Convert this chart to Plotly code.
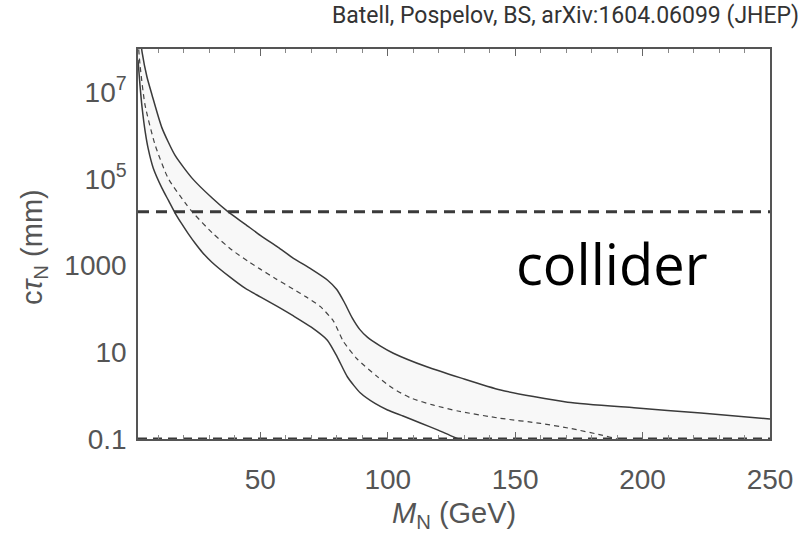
import plotly.graph_objects as go

# ---- data ----
mass_upper = [2, 3.6, 5.5, 7.5, 11.4, 16.5, 23.2, 31.1, 37.4, 44.0, 50.0, 57.0, 63.0, 70.0, 76.3,
              80.0, 83.0, 86.0, 89.0, 92.0, 97.0, 102.2, 115.6, 128.6, 144.3, 170.6, 196.6, 222.9, 250]
log_ctau_upper = [8.7, 7.93, 7.36, 6.94, 6.18, 5.55, 5.02, 4.56, 4.24, 3.96, 3.70, 3.42, 3.17, 2.92, 2.67,
                  2.45, 2.15, 1.80, 1.53, 1.35, 1.15, 0.98, 0.66, 0.41, 0.13, -0.15, -0.28, -0.40, -0.54]

mass_mid = [2, 2.8, 4.75, 8.7, 13.8, 20.5, 23.6, 31.1, 38.9, 45.2, 50.0, 56.0, 62.9, 68.0, 73.5,
            78.7, 82.6, 88.1, 95.9, 102.0, 108.9, 118, 128, 144, 160, 172, 184, 190, 200]
log_ctau_mid = [8.2, 7.63, 6.71, 5.79, 5.02, 4.45, 4.22, 3.76, 3.36, 3.10, 2.92, 2.70, 2.46, 2.28, 2.06,
                1.72, 1.25, 0.84, 0.44, 0.17, -0.05, -0.22, -0.36, -0.52, -0.64, -0.76, -0.91, -1.0, -1.15]

mass_lower = [2, 2.8, 3.6, 4.8, 6.0, 8.0, 11.4, 14.0, 16.5, 19.0, 21.7, 24.5, 27.2, 31.0, 38.0, 44.0,
              50.0, 57.0, 63.0, 70.0, 76.3, 80.2, 84.2, 89.3, 95.0, 99.9, 106.0, 112.8, 120.0, 125.8,
              135, 160, 200, 250]
log_ctau_lower = [7.75, 7.15, 6.65, 6.10, 5.70, 5.25, 4.79, 4.50, 4.22, 3.98, 3.74, 3.51, 3.31, 3.08, 2.74, 2.48,
                  2.28, 2.05, 1.84, 1.58, 1.28, 0.89, 0.43, 0.06, -0.18, -0.33, -0.47, -0.63, -0.80, -0.95,
                  -1.15, -1.6, -2.0, -2.4]

collider_ctau = 1.75e4
lower_ctau = 0.1
x_span = [2, 250]

x_ticks = [50, 100, 150, 200, 250]
y_ticks = [0.1, 10, 1000, 1e5, 1e7]
y_ticktext = ["0.1", "10", "1000", "10<sup>5</sup>", "10<sup>7</sup>"]

title_text = "Batell, Pospelov, BS, arXiv:1604.06099 (JHEP)"
region_label = "collider"

# ---- figure ----
to_lin = lambda arr: [10 ** v for v in arr]
smooth = 0.6

fig = go.Figure()
fig.add_trace(go.Scatter(x=mass_lower, y=to_lin(log_ctau_lower), mode="lines",
                         line=dict(color="#3a3a3a", width=1.5, shape="spline", smoothing=smooth),
                         showlegend=False, hoverinfo="skip"))
fig.add_trace(go.Scatter(x=mass_upper, y=to_lin(log_ctau_upper), mode="lines",
                         line=dict(color="#3a3a3a", width=1.5, shape="spline", smoothing=smooth),
                         fill="tonexty", fillcolor="#f8f8f8",
                         showlegend=False, hoverinfo="skip"))
fig.add_trace(go.Scatter(x=mass_mid, y=to_lin(log_ctau_mid), mode="lines",
                         line=dict(color="#444444", width=1.2, dash="5px,4px", shape="spline", smoothing=smooth),
                         showlegend=False, hoverinfo="skip"))
fig.add_trace(go.Scatter(x=x_span, y=[collider_ctau, collider_ctau], mode="lines",
                         line=dict(color="#3a3a3a", width=3, dash="11px,7px"),
                         showlegend=False, hoverinfo="skip"))
fig.add_trace(go.Scatter(x=x_span, y=[lower_ctau, lower_ctau], mode="lines",
                         line=dict(color="#3a3a3a", width=3, dash="9px,6px"),
                         showlegend=False, hoverinfo="skip"))

tick_font = dict(family="Liberation Sans, Arial, sans-serif", size=28, color="#555555")
label_font = dict(family="Liberation Sans, Arial, sans-serif", size=29, color="#555555")

fig.update_layout(
    width=806, height=533,
    margin=dict(l=138, r=36, t=49, b=94),
    paper_bgcolor="white", plot_bgcolor="white",
    xaxis=dict(range=x_span, tickvals=x_ticks, ticks="inside", ticklen=7, tickwidth=1,
               tickcolor="#666666", showline=True, linecolor="#555555", linewidth=1.5,
               mirror="ticks", showgrid=False, zeroline=False, tickfont=tick_font,
               ticklabelstandoff=15,
               minor=dict(dtick=10, tick0=0, ticks="inside", ticklen=4, tickcolor="#888888")),
    yaxis=dict(type="log", range=[-1, 8], tickvals=y_ticks, ticktext=y_ticktext,
               ticks="", showline=True, linecolor="#555555", linewidth=1.5, mirror=True,
               showgrid=False, zeroline=False, tickfont=tick_font, ticklabelstandoff=4),
    annotations=[
        dict(text=title_text, xref="paper", yref="paper", x=(801 - 138) / 632, y=1.087,
             xanchor="right", yanchor="middle", showarrow=False,
             font=dict(family="Roboto, sans-serif", size=23, color="#333333")),
        dict(text=region_label, xref="paper", yref="paper", x=(612 - 138) / 632, y=(439 - 263) / 390,
             xanchor="center", yanchor="middle", showarrow=False,
             font=dict(family="Open Sans, sans-serif", size=56, color="#000000")),
        dict(text="<i>M</i><sub>N</sub> (GeV)", xref="paper", yref="paper", x=0.5, y=(439 - 515) / 390,
             xanchor="center", yanchor="middle", showarrow=False, font=label_font),
        dict(text="c<i>τ</i><sub>N</sub> (mm)", xref="paper", yref="paper", x=(34 - 138) / 632,
             y=(439 - 247) / 390, xanchor="center", yanchor="middle", textangle=-90, showarrow=False,
             font=label_font),
    ],
)

fig.write_html("out.html")
